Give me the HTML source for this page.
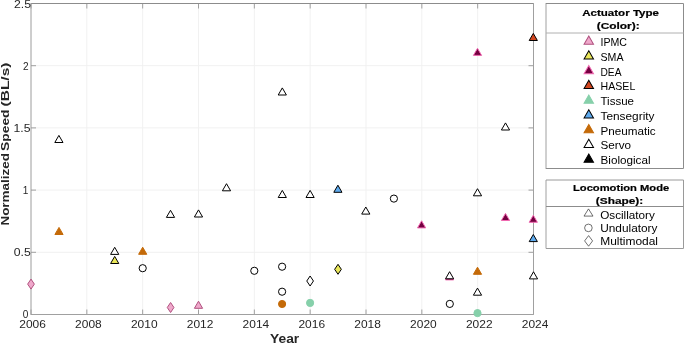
<!DOCTYPE html>
<html><head><meta charset="utf-8"><style>
html,body{margin:0;padding:0;background:#fff;width:685px;height:343px;overflow:hidden}
svg{display:block;will-change:transform}
</style></head><body>
<svg width="685" height="343" viewBox="0 0 685 343">
<path d="M86.83,3.5V314.5M142.67,3.5V314.5M198.50,3.5V314.5M254.33,3.5V314.5M310.17,3.5V314.5M366.00,3.5V314.5M421.83,3.5V314.5M477.67,3.5V314.5M31.0,252.30H533.5M31.0,190.10H533.5M31.0,127.90H533.5M31.0,65.70H533.5" stroke="#F1F1F1" stroke-width="1" fill="none"/>
<path d="M31.00,314.5v-5M31.00,3.5v5M86.83,314.5v-5M86.83,3.5v5M142.67,314.5v-5M142.67,3.5v5M198.50,314.5v-5M198.50,3.5v5M254.33,314.5v-5M254.33,3.5v5M310.17,314.5v-5M310.17,3.5v5M366.00,314.5v-5M366.00,3.5v5M421.83,314.5v-5M421.83,3.5v5M477.67,314.5v-5M477.67,3.5v5M533.50,314.5v-5M533.50,3.5v5M31.0,314.50h5M533.5,314.50h-5M31.0,252.30h5M533.5,252.30h-5M31.0,190.10h5M533.5,190.10h-5M31.0,127.90h5M533.5,127.90h-5M31.0,65.70h5M533.5,65.70h-5M31.0,3.50h5M533.5,3.50h-5" stroke="#A0A0A0" stroke-width="1" fill="none"/>
<path d="M31.0,3.5H533.5" stroke="#8C8C8C" stroke-width="1" fill="none"/>
<path d="M533.5,3.5V314.5M31.0,314.5H533.5" stroke="#A0A0A0" stroke-width="1" fill="none"/>
<path d="M31.0,3.0V315.0" stroke="#9C9C9C" stroke-width="1" fill="none"/>
<path d="M0,-7.1L4.1,0L-4.1,0Z" transform="translate(58.90,142.50) scale(1.0)" fill="#FFFFFF" stroke="#000000" stroke-width="1.000" stroke-miterlimit="10"/>
<path d="M0,-7.1L4.1,0L-4.1,0Z" transform="translate(59.00,234.50) scale(1.0)" fill="#C46A08" stroke="#C46A08" stroke-width="1.000" stroke-miterlimit="10"/>
<path d="M0,-7.1L4.1,0L-4.1,0Z" transform="translate(114.70,254.40) scale(1.0)" fill="#FFFFFF" stroke="#000000" stroke-width="1.000" stroke-miterlimit="10"/>
<path d="M0,-7.1L4.1,0L-4.1,0Z" transform="translate(114.70,263.50) scale(1.0)" fill="#EAE75A" stroke="#000000" stroke-width="1.000" stroke-miterlimit="10"/>
<path d="M0,-7.1L4.1,0L-4.1,0Z" transform="translate(142.70,254.30) scale(1.0)" fill="#C46A08" stroke="#C46A08" stroke-width="1.000" stroke-miterlimit="10"/>
<path d="M0,-7.1L4.1,0L-4.1,0Z" transform="translate(170.50,217.40) scale(1.0)" fill="#FFFFFF" stroke="#000000" stroke-width="1.000" stroke-miterlimit="10"/>
<path d="M0,-7.1L4.1,0L-4.1,0Z" transform="translate(198.50,217.00) scale(1.0)" fill="#FFFFFF" stroke="#000000" stroke-width="1.000" stroke-miterlimit="10"/>
<path d="M0,-7.1L4.1,0L-4.1,0Z" transform="translate(198.50,308.30) scale(1.0)" fill="#EFA8CB" stroke="#B0507E" stroke-width="1.000" stroke-miterlimit="10"/>
<path d="M0,-7.1L4.1,0L-4.1,0Z" transform="translate(226.50,190.80) scale(1.0)" fill="#FFFFFF" stroke="#000000" stroke-width="1.000" stroke-miterlimit="10"/>
<path d="M0,-7.1L4.1,0L-4.1,0Z" transform="translate(282.30,95.00) scale(1.0)" fill="#FFFFFF" stroke="#000000" stroke-width="1.000" stroke-miterlimit="10"/>
<path d="M0,-7.1L4.1,0L-4.1,0Z" transform="translate(282.30,197.50) scale(1.0)" fill="#FFFFFF" stroke="#000000" stroke-width="1.000" stroke-miterlimit="10"/>
<path d="M0,-7.1L4.1,0L-4.1,0Z" transform="translate(310.10,197.50) scale(1.0)" fill="#FFFFFF" stroke="#000000" stroke-width="1.000" stroke-miterlimit="10"/>
<path d="M0,-7.1L4.1,0L-4.1,0Z" transform="translate(337.90,192.30) scale(1.0)" fill="#5EAAEE" stroke="#000000" stroke-width="1.000" stroke-miterlimit="10"/>
<path d="M0,-7.1L4.1,0L-4.1,0Z" transform="translate(365.80,214.10) scale(1.0)" fill="#FFFFFF" stroke="#000000" stroke-width="1.000" stroke-miterlimit="10"/>
<path d="M0,-7.1L4.1,0L-4.1,0Z" transform="translate(421.60,227.90) scale(1.0)" fill="#740040" stroke="#F068B0" stroke-width="1.000" stroke-miterlimit="10"/>
<path d="M0,-7.1L4.1,0L-4.1,0Z" transform="translate(449.60,279.90) scale(1.0)" fill="#740040" stroke="#F068B0" stroke-width="1.000" stroke-miterlimit="10"/>
<path d="M0,-7.1L4.1,0L-4.1,0Z" transform="translate(449.60,278.80) scale(1.0)" fill="#FFFFFF" stroke="#000000" stroke-width="1.000" stroke-miterlimit="10"/>
<path d="M0,-7.1L4.1,0L-4.1,0Z" transform="translate(477.50,55.40) scale(1.0)" fill="#740040" stroke="#F068B0" stroke-width="1.000" stroke-miterlimit="10"/>
<path d="M0,-7.1L4.1,0L-4.1,0Z" transform="translate(477.50,195.80) scale(1.0)" fill="#FFFFFF" stroke="#000000" stroke-width="1.000" stroke-miterlimit="10"/>
<path d="M0,-7.1L4.1,0L-4.1,0Z" transform="translate(477.50,274.30) scale(1.0)" fill="#C46A08" stroke="#C46A08" stroke-width="1.000" stroke-miterlimit="10"/>
<path d="M0,-7.1L4.1,0L-4.1,0Z" transform="translate(477.50,295.20) scale(1.0)" fill="#FFFFFF" stroke="#000000" stroke-width="1.000" stroke-miterlimit="10"/>
<path d="M0,-7.1L4.1,0L-4.1,0Z" transform="translate(505.50,130.00) scale(1.0)" fill="#FFFFFF" stroke="#000000" stroke-width="1.000" stroke-miterlimit="10"/>
<path d="M0,-7.1L4.1,0L-4.1,0Z" transform="translate(505.50,220.50) scale(1.0)" fill="#740040" stroke="#F068B0" stroke-width="1.000" stroke-miterlimit="10"/>
<path d="M0,-7.1L4.1,0L-4.1,0Z" transform="translate(533.30,40.50) scale(1.0)" fill="#D2461F" stroke="#000000" stroke-width="1.000" stroke-miterlimit="10"/>
<path d="M0,-7.1L4.1,0L-4.1,0Z" transform="translate(533.30,222.30) scale(1.0)" fill="#740040" stroke="#F068B0" stroke-width="1.000" stroke-miterlimit="10"/>
<path d="M0,-7.1L4.1,0L-4.1,0Z" transform="translate(533.30,241.60) scale(1.0)" fill="#5EAAEE" stroke="#000000" stroke-width="1.000" stroke-miterlimit="10"/>
<path d="M0,-7.1L4.1,0L-4.1,0Z" transform="translate(533.50,278.90) scale(1.0)" fill="#FFFFFF" stroke="#000000" stroke-width="1.000" stroke-miterlimit="10"/>
<circle cx="142.70" cy="268.20" r="3.60" fill="#FFFFFF" stroke="#000000" stroke-width="1.0"/>
<circle cx="254.30" cy="270.80" r="3.60" fill="#FFFFFF" stroke="#000000" stroke-width="1.0"/>
<circle cx="282.10" cy="266.70" r="3.60" fill="#FFFFFF" stroke="#000000" stroke-width="1.0"/>
<circle cx="282.10" cy="291.70" r="3.60" fill="#FFFFFF" stroke="#000000" stroke-width="1.0"/>
<circle cx="282.10" cy="304.00" r="3.60" fill="#C46A08" stroke="#C46A08" stroke-width="1.0"/>
<circle cx="310.10" cy="302.90" r="3.60" fill="#86D0AA" stroke="#86D0AA" stroke-width="1.0"/>
<circle cx="393.90" cy="198.60" r="3.60" fill="#FFFFFF" stroke="#000000" stroke-width="1.0"/>
<circle cx="449.80" cy="303.90" r="3.60" fill="#FFFFFF" stroke="#000000" stroke-width="1.0"/>
<circle cx="477.50" cy="313.10" r="3.60" fill="#86D0AA" stroke="#86D0AA" stroke-width="1.0"/>
<path d="M0,-5L3.35,0L0,5L-3.35,0Z" transform="translate(31.00,284.10) scale(1.0)" fill="#EFA8CB" stroke="#B0507E" stroke-width="1.000"/>
<path d="M0,-5L3.35,0L0,5L-3.35,0Z" transform="translate(170.60,307.50) scale(1.0)" fill="#EFA8CB" stroke="#B0507E" stroke-width="1.000"/>
<path d="M0,-5L3.35,0L0,5L-3.35,0Z" transform="translate(310.10,281.00) scale(1.0)" fill="#FFFFFF" stroke="#000000" stroke-width="1.000"/>
<path d="M0,-5L3.35,0L0,5L-3.35,0Z" transform="translate(338.00,269.30) scale(1.0)" fill="#EAE75A" stroke="#000000" stroke-width="1.000"/>
<text x="22.80" y="318.45" font-family="Liberation Sans, sans-serif" font-size="11.3" fill="#262626" textLength="5.6" lengthAdjust="spacingAndGlyphs">0</text>
<text x="13.80" y="256.25" font-family="Liberation Sans, sans-serif" font-size="11.3" fill="#262626" textLength="17.0" lengthAdjust="spacingAndGlyphs">0.5</text>
<text x="22.80" y="194.35" font-family="Liberation Sans, sans-serif" font-size="11.3" fill="#262626" textLength="5.6" lengthAdjust="spacingAndGlyphs">1</text>
<text x="13.50" y="131.95" font-family="Liberation Sans, sans-serif" font-size="11.3" fill="#262626" textLength="17.0" lengthAdjust="spacingAndGlyphs">1.5</text>
<text x="23.06" y="69.70" font-family="Liberation Sans, sans-serif" font-size="11.3" fill="#262626" textLength="5.6" lengthAdjust="spacingAndGlyphs">2</text>
<text x="14.00" y="8.05" font-family="Liberation Sans, sans-serif" font-size="11.3" fill="#262626" textLength="17.0" lengthAdjust="spacingAndGlyphs">2.5</text>
<text x="19.30" y="328" font-family="Liberation Sans, sans-serif" font-size="11.3" fill="#262626" textLength="26.6" lengthAdjust="spacingAndGlyphs">2006</text>
<text x="75.13" y="328" font-family="Liberation Sans, sans-serif" font-size="11.3" fill="#262626" textLength="26.6" lengthAdjust="spacingAndGlyphs">2008</text>
<text x="130.97" y="328" font-family="Liberation Sans, sans-serif" font-size="11.3" fill="#262626" textLength="26.6" lengthAdjust="spacingAndGlyphs">2010</text>
<text x="186.80" y="328" font-family="Liberation Sans, sans-serif" font-size="11.3" fill="#262626" textLength="26.6" lengthAdjust="spacingAndGlyphs">2012</text>
<text x="242.63" y="328" font-family="Liberation Sans, sans-serif" font-size="11.3" fill="#262626" textLength="26.6" lengthAdjust="spacingAndGlyphs">2014</text>
<text x="298.47" y="328" font-family="Liberation Sans, sans-serif" font-size="11.3" fill="#262626" textLength="26.6" lengthAdjust="spacingAndGlyphs">2016</text>
<text x="354.30" y="328" font-family="Liberation Sans, sans-serif" font-size="11.3" fill="#262626" textLength="26.6" lengthAdjust="spacingAndGlyphs">2018</text>
<text x="410.13" y="328" font-family="Liberation Sans, sans-serif" font-size="11.3" fill="#262626" textLength="26.6" lengthAdjust="spacingAndGlyphs">2020</text>
<text x="465.97" y="328" font-family="Liberation Sans, sans-serif" font-size="11.3" fill="#262626" textLength="26.6" lengthAdjust="spacingAndGlyphs">2022</text>
<text x="521.80" y="328" font-family="Liberation Sans, sans-serif" font-size="11.3" fill="#262626" textLength="26.6" lengthAdjust="spacingAndGlyphs">2024</text>
<text x="270" y="342.9" font-family="Liberation Sans, sans-serif" font-size="12.2" font-weight="bold" fill="#262626" textLength="29.2" lengthAdjust="spacingAndGlyphs">Year</text>
<g transform="translate(9.2,0) rotate(-90)" font-family="Liberation Sans, sans-serif" font-size="10.6" font-weight="bold" fill="#262626">
<text x="-225.60" y="0" textLength="72.60" lengthAdjust="spacingAndGlyphs">Normalized</text>
<text x="-150.90" y="0" textLength="41.40" lengthAdjust="spacingAndGlyphs">Speed</text>
<text x="-106.40" y="0" textLength="43.80" lengthAdjust="spacingAndGlyphs">(BL/s)</text>
</g>
<rect x="546" y="3.5" width="137.5" height="165" fill="#fff" stroke="none"/>
<path d="M546,3V169" stroke="#A0A0A0" stroke-width="1"/>
<path d="M546,3.5H683.5V168.5H546" stroke="#8C8C8C" stroke-width="1" fill="none"/>
<path d="M546,33H683.5" stroke="#B0B0B0" stroke-width="1"/>
<text x="582.2" y="15.9" font-family="Liberation Sans, sans-serif" font-size="9.6" font-weight="bold" fill="#000" stroke="#000" stroke-width="0.2" textLength="76.8" lengthAdjust="spacingAndGlyphs">Actuator Type</text>
<text x="596.7" y="28.6" font-family="Liberation Sans, sans-serif" font-size="9.6" font-weight="bold" fill="#000" stroke="#000" stroke-width="0.2" textLength="43" lengthAdjust="spacingAndGlyphs">(Color):</text>
<path d="M0,-7.1L4.1,0L-4.1,0Z" transform="translate(588.80,44.23) scale(1.15)" fill="#EFA8CB" stroke="#B0507E" stroke-width="0.870" stroke-miterlimit="10"/>
<text x="600.5" y="46.00" font-family="Liberation Sans, sans-serif" font-size="10.8" fill="#000" textLength="26.5" lengthAdjust="spacingAndGlyphs">IPMC</text>
<path d="M0,-7.1L4.1,0L-4.1,0Z" transform="translate(588.80,58.98) scale(1.15)" fill="#EAE75A" stroke="#000000" stroke-width="0.870" stroke-miterlimit="10"/>
<text x="600.5" y="60.75" font-family="Liberation Sans, sans-serif" font-size="10.8" fill="#000" textLength="23" lengthAdjust="spacingAndGlyphs">SMA</text>
<path d="M0,-7.1L4.1,0L-4.1,0Z" transform="translate(588.80,73.73) scale(1.15)" fill="#740040" stroke="#F068B0" stroke-width="0.870" stroke-miterlimit="10"/>
<text x="600.5" y="75.50" font-family="Liberation Sans, sans-serif" font-size="10.8" fill="#000" textLength="21" lengthAdjust="spacingAndGlyphs">DEA</text>
<path d="M0,-7.1L4.1,0L-4.1,0Z" transform="translate(588.80,88.48) scale(1.15)" fill="#D2461F" stroke="#000000" stroke-width="0.870" stroke-miterlimit="10"/>
<text x="600.5" y="90.25" font-family="Liberation Sans, sans-serif" font-size="10.8" fill="#000" textLength="34.8" lengthAdjust="spacingAndGlyphs">HASEL</text>
<path d="M0,-7.1L4.1,0L-4.1,0Z" transform="translate(588.80,103.23) scale(1.15)" fill="#86D0AA" stroke="#86D0AA" stroke-width="0.870" stroke-miterlimit="10"/>
<text x="600.5" y="105.00" font-family="Liberation Sans, sans-serif" font-size="10.8" fill="#000" textLength="33.5" lengthAdjust="spacingAndGlyphs">Tissue</text>
<path d="M0,-7.1L4.1,0L-4.1,0Z" transform="translate(588.80,117.98) scale(1.15)" fill="#5EAAEE" stroke="#000000" stroke-width="0.870" stroke-miterlimit="10"/>
<text x="600.5" y="119.75" font-family="Liberation Sans, sans-serif" font-size="10.8" fill="#000" textLength="54" lengthAdjust="spacingAndGlyphs">Tensegrity</text>
<path d="M0,-7.1L4.1,0L-4.1,0Z" transform="translate(588.80,132.72) scale(1.15)" fill="#C46A08" stroke="#C46A08" stroke-width="0.870" stroke-miterlimit="10"/>
<text x="600.5" y="134.50" font-family="Liberation Sans, sans-serif" font-size="10.8" fill="#000" textLength="55.2" lengthAdjust="spacingAndGlyphs">Pneumatic</text>
<path d="M0,-7.1L4.1,0L-4.1,0Z" transform="translate(588.80,147.47) scale(1.15)" fill="#FFFFFF" stroke="#000000" stroke-width="0.870" stroke-miterlimit="10"/>
<text x="600.5" y="149.25" font-family="Liberation Sans, sans-serif" font-size="10.8" fill="#000" textLength="30.6" lengthAdjust="spacingAndGlyphs">Servo</text>
<path d="M0,-7.1L4.1,0L-4.1,0Z" transform="translate(588.80,162.22) scale(1.15)" fill="#000000" stroke="#000000" stroke-width="0.870" stroke-miterlimit="10"/>
<text x="600.5" y="164.00" font-family="Liberation Sans, sans-serif" font-size="10.8" fill="#000" textLength="50" lengthAdjust="spacingAndGlyphs">Biological</text>
<path d="M546,180V248.5" stroke="#A0A0A0" stroke-width="1"/>
<path d="M546,180H683.5V248.5H546" stroke="#9A9A9A" stroke-width="1" fill="none"/>
<path d="M546,206.5H683.5" stroke="#8C8C8C" stroke-width="1"/>
<text x="573" y="191" font-family="Liberation Sans, sans-serif" font-size="9.6" font-weight="bold" fill="#000" stroke="#000" stroke-width="0.2" textLength="96.2" lengthAdjust="spacingAndGlyphs">Locomotion Mode</text>
<text x="595.8" y="203.6" font-family="Liberation Sans, sans-serif" font-size="9.6" font-weight="bold" fill="#000" stroke="#000" stroke-width="0.2" textLength="47.4" lengthAdjust="spacingAndGlyphs">(Shape):</text>
<text x="600.2" y="218.8" font-family="Liberation Sans, sans-serif" font-size="10.8" fill="#000" textLength="54.7" lengthAdjust="spacingAndGlyphs">Oscillatory</text>
<text x="600.2" y="231.6" font-family="Liberation Sans, sans-serif" font-size="10.8" fill="#000" textLength="57.3" lengthAdjust="spacingAndGlyphs">Undulatory</text>
<text x="600.2" y="245" font-family="Liberation Sans, sans-serif" font-size="10.8" fill="#000" textLength="57.8" lengthAdjust="spacingAndGlyphs">Multimodal</text>
<path d="M588.5,208.9L593,216.1L584,216.1Z" fill="none" stroke="#333" stroke-width="0.7"/>
<circle cx="588.4" cy="227.9" r="3.8" fill="none" stroke="#333" stroke-width="0.7"/>
<path d="M588.6,235.6L592.6,240.9L588.6,246.2L584.6,240.9Z" fill="none" stroke="#333" stroke-width="0.7"/>
</svg>
</body></html>
